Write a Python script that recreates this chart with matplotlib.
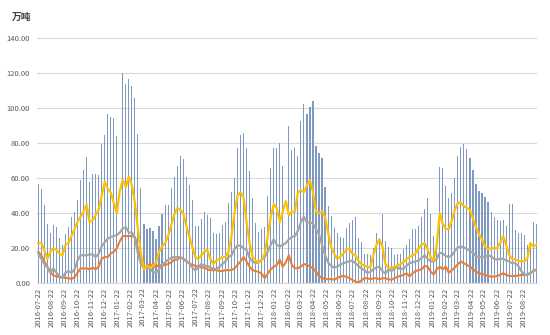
import matplotlib
matplotlib.use("Agg")
import matplotlib.pyplot as plt
import matplotlib.dates as mdates
import numpy as np
import pandas as pd

plt.rcParams['font.family'] = ['Noto Sans CJK SC', 'DejaVu Sans']

# weekly series, first week 2016-07-22
start = "2016-07-22"

total = [57, 54, 45, 34, 28.5, 33.5, 32, 26, 22, 28,
         32, 38, 41, 47.5, 59, 65, 72, 58, 62.5, 62.5,
         62, 79.5, 85, 96.5, 95, 94.5, 84, np.nan, 120, 114,
         117, 113, 106, 85.5, 54.5, 34, 31, 31.5, 30, 25.5,
         33, 39.5, 45, 44.5, 54.5, 61, 67, 73, 71, 61,
         56, 47.5, 33, 33, 36.5, 41, 39, 37.5, 29, 28,
         29, 33.5, 35, 46, 52, 60, 77.5, 85, 86, 77.5,
         64, 49, 34.5, 29.5, 31, 32, 50, 66, 77.5, 77.5,
         80, 67, np.nan, 90, 76, 77.5, 72.5, 93, 102.5, 97,
         101, 104, 78.5, 74.5, 71.5, 55, 44, 38.5, 31.5, 28.5,
         26.5, 26, 31.5, 34.5, 36, 38, 26, 23.5, 17, 16.5,
         16, 20, 28.5, 26, 39.5, 24, 20.5, 20, 16, 17,
         17, 19.5, 22, 25.5, 31, 31, 32.5, 38, 42.5, 49,
         39.5, 27, 22, 66.5, 66, 55.5, 48.5, 51.5, 60, 73,
         78, 79.5, 76.5, 71.5, 65, 57, 53, 51.5, 49.5, 46.5,
         41, 38, 36, 35.5, 36, 32.5, 45.5, 45.5, 30.5, 28.5,
         28.5, 27.5, 22, 22, 35, 34]

orange = [18, 16, 12.5, 9.5, 6.5, 4.5, 4, 3.5, 3.5, 3,
          3, 2.5, 3.5, 6, 8.5, 8.5, 8.5, 8, 9, 8,
          9.5, 14, 15, 15, 17, 18, 20, 24, 27, 27,
          27, 27, 26.5, 20, 12.5, 8.5, 10, 11, 9.5, 9.5,
          10.5, 10, 10.5, 11, 12, 13.5, 13.5, 15, 14, 12.5,
          11.5, 10.5, 10, 9.5, 9, 9, 8, 7.5, 7.5, 7.5,
          7, 7, 7.5, 7.5, 7.5, 8.5, 10.5, 12.5, 15, 12.5,
          9.5, 7.5, 7, 6.5, 5.5, 3, 5.5, 8, 9.5, 10.5,
          13.5, 9.5, 12, 16, 10.5, 8.6, 8.6, 9.5, 11, 10.5,
          9.5, 8.6, 6.7, 4.2, 3, 2.5, 2.3, 2.5, 2, 3,
          3.8, 4.2, 3.8, 3, 2, 1, 0.5, 1.5, 2.9, 2.9,
          2.3, 2.9, 2.9, 2.3, 2.9, 2.9, 2.3, 2, 2.9, 3.8,
          4.2, 4.8, 5.7, 4, 5.7, 7, 7.5, 8, 9.9, 9.5,
          6.7, 5, 8, 9.5, 8, 9.5, 6, 7.6, 9, 11,
          12.4, 11.4, 10.5, 9.5, 8, 6.7, 5.7, 5.3, 4.8, 4.2,
          3.8, 3.8, 4.2, 4.8, 5.7, 4.8, 4.2, 4.2, 4.2, 4.5,
          4.8, 4.8, 4.8, 5.7, 7.2, 7.5]

gray = [17, 14, 11, 9, 6, 8.5, 6, 4, 3, 6,
        7, 6, 8, 13, 16, 16, 16, 16.5, 16.5, 15,
        17, 21, 23.5, 25.5, 26.5, 27, 27.5, 29, 31.5, 32,
        29, 29, 26, 17, 11, 9, 8.5, 8.5, 6.5, 6,
        8, 10.5, 12, 13.5, 14.5, 15, 15, 15, 14, 13,
        11.5, 9, 7.5, 9, 11, 10, 10, 9, 8.5, 8,
        9.5, 11, 12.5, 15, 16, 19.5, 21.5, 21.5, 20, 19,
        14.5, 12.5, 11.5, 12, 13.5, 15, 18, 22, 25, 22,
        21, 22, 23, 25, 26.5, 27, 30, 35, 38, 34.5,
        35, 34, 31, 28, 22, 16, 12, 10, 9, 9.5,
        10.5, 11.5, 12, 12.5, 13, 11.5, 10, 8.5, 7.5, 6,
        6.5, 8, 9, 9.5, 7, 5.5, 8, 7, 8.5, 9.5,
        8, 8.5, 10, 11.5, 12, 12.5, 13, 14.5, 16, 14,
        12.5, 12.5, 14, 17.5, 17, 15.5, 15, 16, 18.5, 20.5,
        21, 20.5, 19.5, 18.5, 17.5, 15.5, 15, 15, 15, 16,
        15.5, 14, 13.5, 14, 14, 13, 12.5, 11.5, 11.5, 10,
        7, 5, 5, 6, 7, 8]

yellow = [23, 23, 19, 14, 18, 20, 19, 17, 16, 22,
          23, 27, 31, 35, 38, 41, 45, 35, 36, 39,
          42, 50, 58, 54, 52, 46, 40, 53, 59, 55,
          61, 56, 46, 31, 17, 8, 10, 9, 10, 12,
          18, 21, 23, 27, 33, 39, 43, 42, 40, 33,
          27, 21, 15, 14, 16, 18, 19, 14, 11, 13,
          14, 15, 15, 18, 27, 40, 50, 52, 49, 35,
          23, 15, 13, 12, 13, 17, 27, 38, 45, 43,
          35, 41, 47, 39, 41, 41, 52, 53, 52, 56,
          59, 52, 41, 40, 41, 38, 29, 21, 17, 14,
          15, 17, 19, 20, 17, 16, 13, 11, 10, 9.5,
          9, 16, 22, 25, 21, 11, 9, 9, 9.5, 10,
          11, 12, 14, 15, 16, 17, 20, 22, 23, 19,
          15, 13, 22, 40, 34, 31, 31, 36, 42, 46,
          46, 44, 43, 42, 37, 32, 28, 25, 21, 19.5,
          20, 20, 20, 23, 27, 22, 16, 14, 13.5, 13,
          12.5, 12.5, 14, 23, 21, 22]

weeks = pd.date_range(start, periods=len(total), freq="7D")

fig = plt.figure(figsize=(5.5, 3.35), dpi=100)
ax = fig.add_axes([37 / 550, 1 - 283.3 / 335, 500 / 550, (283.3 - 38.3) / 335])

ax.bar(weeks, total, width=2.6, color="#7f99c0", zorder=2)
ax.plot(weeks, orange, color="#ed7d31", lw=1.5, zorder=3)
ax.plot(weeks, gray, color="#a5a5a5", lw=1.6, zorder=4)
ax.plot(weeks, yellow, color="#ffc000", lw=1.6, zorder=5)

ax.set_ylim(0, 140)
ax.set_yticks(np.arange(0, 141, 20))
ax.yaxis.set_major_formatter(matplotlib.ticker.FormatStrFormatter("%.2f"))
ax.set_xlim(pd.Timestamp("2016-07-19"), pd.Timestamp("2019-09-21 12:00"))
ax.xaxis.set_major_locator(mdates.MonthLocator(bymonthday=22))
ax.xaxis.set_major_formatter(mdates.DateFormatter("%Y-%m-%d"))

ax.grid(axis="y", color="#d9d9d9", lw=0.8, zorder=0)
ax.set_axisbelow(True)
for s in ["top", "right", "left"]:
    ax.spines[s].set_visible(False)
ax.spines["bottom"].set_color("#d9d9d9")
ax.tick_params(length=0, labelsize=5.5, labelcolor="#595959")
ax.tick_params(axis="x", rotation=90, pad=3)
ax.tick_params(axis="y", pad=5)

fig.text(22 / 550, 1 - 17 / 335, "万吨", fontsize=7, color="#404040",
         fontweight="bold", ha="center", va="center")

fig.savefig("out.png", dpi=100)
